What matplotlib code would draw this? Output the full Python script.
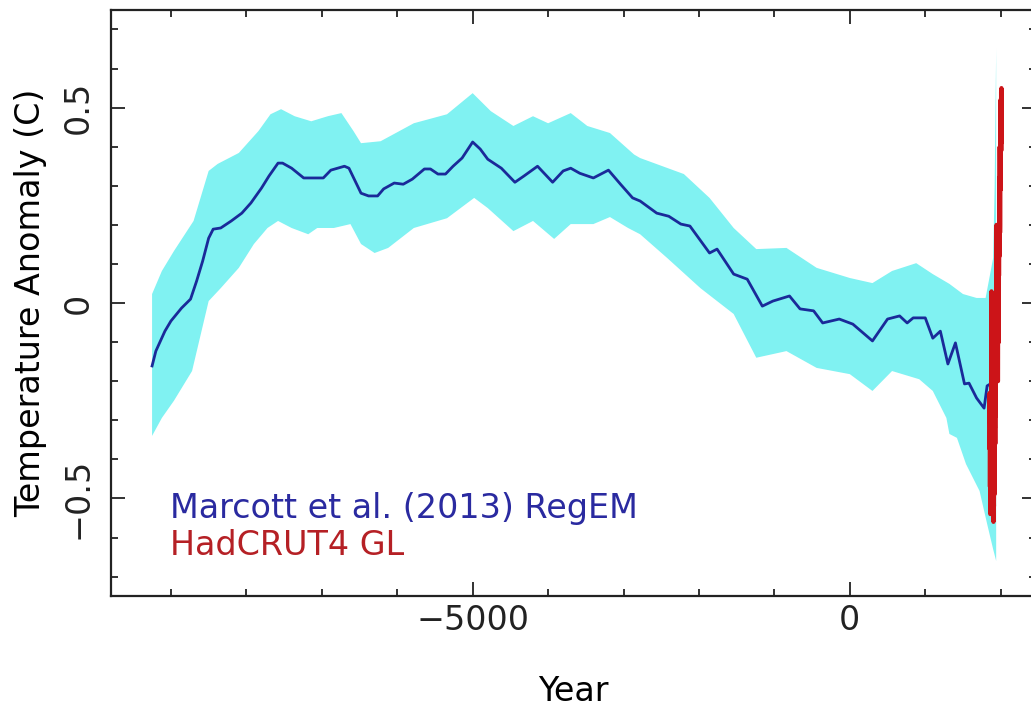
import numpy as np
import matplotlib
matplotlib.use("Agg")
import matplotlib.pyplot as plt
from matplotlib.ticker import MultipleLocator

# Marcott et al. (2013) RegEM stack
marcott_year = [-9250, -9200, -9080, -9000, -8860, -8740, -8660, -8580, -8500, -8440,
                -8340, -8200, -8060, -7940, -7800, -7700, -7580, -7520, -7400, -7240,
                -7100, -6980, -6880, -6700, -6640, -6480, -6380, -6260, -6180, -6040,
                -5920, -5800, -5640, -5560, -5460, -5360, -5260, -5140, -5000, -4900,
                -4800, -4620, -4440, -4320, -4140, -3940, -3800, -3700, -3580, -3400,
                -3200, -3040, -2880, -2780, -2560, -2400, -2240, -2120, -1860, -1760,
                -1540, -1360, -1160, -1020, -800, -660, -480, -360, -140, 40,
                300, 500, 660, 760, 840, 1000, 1100, 1200, 1300, 1400,
                1520, 1580, 1680, 1780, 1820, 1880, 1920, 1940]
marcott_temp = [-0.161, -0.123, -0.072, -0.046, -0.013, 0.010, 0.056, 0.107, 0.166, 0.189,
                0.192, 0.210, 0.230, 0.256, 0.294, 0.325, 0.358, 0.358, 0.345, 0.320,
                0.320, 0.320, 0.340, 0.350, 0.345, 0.281, 0.274, 0.274, 0.292, 0.307,
                0.304, 0.317, 0.343, 0.343, 0.330, 0.330, 0.350, 0.371, 0.412, 0.394,
                0.368, 0.345, 0.309, 0.325, 0.350, 0.309, 0.338, 0.345, 0.332, 0.320,
                0.340, 0.304, 0.269, 0.261, 0.230, 0.222, 0.202, 0.197, 0.128, 0.138,
                0.074, 0.061, -0.008, 0.005, 0.018, -0.015, -0.020, -0.051, -0.041, -0.054,
                -0.097, -0.041, -0.033, -0.051, -0.038, -0.038, -0.090, -0.072, -0.156, -0.102,
                -0.207, -0.205, -0.243, -0.269, -0.212, -0.205, -0.150, -0.050]

# uncertainty envelope (upper / lower edge)
upper_year = [-9250, -9120, -8960, -8700, -8500, -8380, -8100, -7840, -7680, -7540,
              -7360, -7140, -6920, -6740, -6580, -6480, -6220, -5780, -5340, -5000,
              -4760, -4460, -4200, -4000, -3700, -3480, -3180, -2860, -2780, -2200,
              -1860, -1540, -1240, -840, -440, 0, 300, 560, 880, 1100,
              1320, 1500, 1680, 1800, 1900, 1920, 1940]
upper_temp = [0.023, 0.082, 0.133, 0.210, 0.338, 0.356, 0.384, 0.440, 0.483, 0.496,
              0.478, 0.465, 0.478, 0.486, 0.440, 0.409, 0.414, 0.460, 0.483, 0.537,
              0.491, 0.453, 0.478, 0.460, 0.486, 0.453, 0.435, 0.380, 0.371, 0.330,
              0.269, 0.192, 0.138, 0.141, 0.090, 0.064, 0.051, 0.082, 0.102, 0.074,
              0.049, 0.023, 0.013, 0.013, 0.115, 0.300, 0.650]
lower_year = [-9250, -9120, -8960, -8720, -8500, -8340, -8100, -7900, -7720, -7580,
              -7400, -7180, -7060, -6840, -6620, -6480, -6300, -6120, -5780, -5340,
              -4980, -4800, -4460, -4200, -3920, -3700, -3400, -3180, -2940, -2780,
              -2420, -1980, -1540, -1240, -840, -440, 0, 300, 560, 920,
              1100, 1280, 1320, 1420, 1540, 1720, 1820, 1900, 1940]
lower_temp = [-0.340, -0.294, -0.250, -0.174, 0.005, 0.038, 0.090, 0.151, 0.192, 0.210,
              0.192, 0.176, 0.192, 0.192, 0.202, 0.151, 0.128, 0.141, 0.192, 0.217,
              0.269, 0.243, 0.184, 0.210, 0.164, 0.202, 0.202, 0.220, 0.192, 0.176,
              0.115, 0.038, -0.028, -0.140, -0.123, -0.166, -0.182, -0.225, -0.174, -0.195,
              -0.225, -0.294, -0.335, -0.345, -0.412, -0.481, -0.565, -0.630, -0.660]

# HadCRUT4 global annual anomaly
hadcrut_year = np.arange(1850, 2013)
hadcrut_temp = [-0.37, -0.23, -0.23, -0.27, -0.29, -0.30, -0.32, -0.47, -0.39, -0.28,
                -0.39, -0.43, -0.54, -0.34, -0.47, -0.33, -0.29, -0.32, -0.28, -0.28,
                -0.29, -0.32, -0.27, -0.30, -0.37, -0.40, -0.39, -0.09, 0.03, -0.26,
                -0.30, -0.23, -0.26, -0.35, -0.46, -0.47, -0.41, -0.47, -0.34, -0.19,
                -0.48, -0.39, -0.49, -0.48, -0.42, -0.40, -0.19, -0.21, -0.43, -0.29,
                -0.19, -0.27, -0.42, -0.50, -0.56, -0.42, -0.35, -0.50, -0.53, -0.52,
                -0.51, -0.52, -0.45, -0.45, -0.28, -0.21, -0.42, -0.49, -0.37, -0.30,
                -0.31, -0.25, -0.32, -0.30, -0.32, -0.22, -0.11, -0.22, -0.21, -0.36,
                -0.16, -0.10, -0.16, -0.29, -0.13, -0.20, -0.15, -0.03, 0.00, -0.02,
                0.12, 0.18, 0.06, 0.09, 0.20, 0.09, -0.07, -0.03, -0.11, -0.11,
                -0.17, -0.07, 0.01, 0.08, -0.13, -0.14, -0.19, 0.05, 0.06, 0.03,
                -0.03, 0.06, 0.03, 0.05, -0.20, -0.11, -0.06, -0.02, -0.08, 0.05,
                0.03, -0.08, 0.01, 0.16, -0.07, -0.01, -0.10, 0.18, 0.07, 0.16,
                0.26, 0.32, 0.14, 0.31, 0.16, 0.12, 0.18, 0.33, 0.40, 0.27,
                0.40, 0.36, 0.18, 0.20, 0.28, 0.40, 0.29, 0.41, 0.52, 0.30,
                0.29, 0.44, 0.49, 0.50, 0.45, 0.54, 0.50, 0.48, 0.39, 0.50,
                0.55, 0.41, 0.45]

plt.rcParams['font.family'] = ['DejaVu Sans']

fig = plt.figure(figsize=(10.31, 7.08), dpi=100)
ax = fig.add_axes([0.1077, 0.158, 0.897, 0.828])

band_x = np.concatenate([upper_year, lower_year[::-1]])
band_y = np.concatenate([upper_temp, lower_temp[::-1]])
ax.fill(band_x, band_y, color='#80f2f2', lw=0)
ax.plot(marcott_year, marcott_temp, color='#1a2a99', lw=2)
ax.plot(hadcrut_year, hadcrut_temp, color='#cc1418', lw=3)

ax.set_xlim(-9794, 2466)
ax.set_ylim(-0.75, 0.75)

ax.xaxis.set_major_locator(MultipleLocator(5000))
ax.xaxis.set_minor_locator(MultipleLocator(1000))
ax.yaxis.set_major_locator(MultipleLocator(0.5))
ax.yaxis.set_minor_locator(MultipleLocator(0.1))
ax.tick_params(which='both', direction='in', top=True, right=True, width=1.3, colors='#222222')
ax.tick_params(which='major', length=10)
ax.tick_params(which='minor', length=5)
ax.tick_params(axis='x', labelsize=24, pad=6)
ax.tick_params(axis='y', labelsize=24, pad=12)
ax.set_yticks([-0.5, 0, 0.5], ['\u22120.5', '0', '0.5'])
for lbl in ax.get_yticklabels():
    lbl.set_rotation(90)
    lbl.set_va('center')
for s in ax.spines.values():
    s.set_linewidth(1.6)
    s.set_color('#222222')

ax.set_xlabel('Year', fontsize=24, labelpad=27)
ax.set_ylabel('Temperature Anomaly (C)', fontsize=24, labelpad=10)

ax.text(0.064, 0.150, 'Marcott et al. (2013) RegEM', transform=ax.transAxes,
        color='#2a2aa0', fontsize=24, va='center')
ax.text(0.064, 0.087, 'HadCRUT4 GL', transform=ax.transAxes,
        color='#b52025', fontsize=24, va='center')

fig.savefig('out.png', dpi=100)
